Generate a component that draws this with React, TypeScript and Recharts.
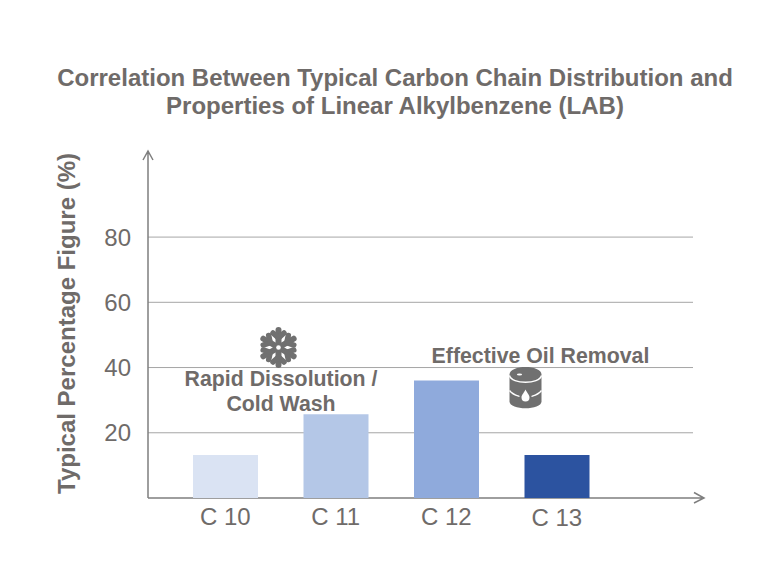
import React from "react";
import { BarChart, Bar, XAxis, YAxis, CartesianGrid, Cell } from "recharts";

const categories = ["C 10", "C 11", "C 12", "C 13"];
const percentages = [13.2, 25.7, 36, 13.2];
const barColors = ["#DAE3F3", "#B4C7E7", "#8FAADC", "#2C53A0"];
const yTicks = [20, 40, 60, 80];
const titleLines = [
  "Correlation Between Typical Carbon Chain Distribution and",
  "Properties of Linear Alkylbenzene (LAB)",
];
const yLabel = "Typical Percentage Figure (%)";
const noteCold = ["Rapid Dissolution /", "Cold Wash"];
const noteOil = "Effective Oil Removal";

const data = categories.map((name, i) => ({ name, value: percentages[i] }));

const TEXT = "#6F6B69";
const ICON = "#707070";
const FONT = "'Liberation Sans', Arial, sans-serif";

function Snowflake({ cx, cy }: { cx: number; cy: number }) {
  const arms = [0, 60, 120, 180, 240, 300];
  return (
    <g transform={`translate(${cx},${cy})`}>
      {arms.map((a) => (
        <g key={a} transform={`rotate(${a})`} stroke={ICON} strokeLinecap="round" fill="none">
          <line x1={0} y1={0} x2={0} y2={-17.5} strokeWidth={6} />
          <line x1={0} y1={-9.5} x2={-5.5} y2={-14.5} strokeWidth={5.5} />
          <line x1={0} y1={-9.5} x2={5.5} y2={-14.5} strokeWidth={5.5} />
        </g>
      ))}
      <circle r={5} fill={ICON} />
      <circle r={2.3} fill="#fff" />
    </g>
  );
}

function Barrel({ cx, cy }: { cx: number; cy: number }) {
  return (
    <g transform={`translate(${cx},${cy})`}>
      <path
        d="M-16,-13 C-16,-23 16,-23 16,-13 L16,14 C16,23 -16,23 -16,14 Z"
        fill={ICON}
      />
      <path d="M-16,-12 C-14,-3 14,-3 16,-12" fill="none" stroke="#fff" strokeWidth={1.3} />
      <path d="M-16,3 C-13,7 -9,8 -6,9 M6,9 C9,8 13,7 16,3" fill="none" stroke="#fff" strokeWidth={1.3} />
      <ellipse cx={-6} cy={-13} rx={2.6} ry={1} fill="#fff" />
      <path d="M0,2 C2,6 4,7.5 4,10 A4,4 0 0 1 -4,10 C-4,7.5 -2,6 0,2 Z" fill="#fff" />
    </g>
  );
}

function AxisTick(props: any) {
  const { x, y, payload, index } = props;
  return (
    <text x={x} y={y + 19 + (index === 3 ? 1 : 0)} textAnchor="middle" fontSize={24} fill={TEXT} fontFamily={FONT}>
      {payload.value}
    </text>
  );
}

export default function App() {
  return (
    <div style={{ position: "absolute", left: 0, top: 0, width: 779, height: 584 }}>
      <BarChart
        width={779}
        height={584}
        data={data}
        margin={{ top: 150, right: 86, bottom: 0, left: 0 }}
        barSize={65}
      >
        <CartesianGrid horizontal vertical={false} horizontalValues={yTicks} stroke="#A6A6A6" strokeWidth={1} />
        <XAxis
          dataKey="name"
          height={86}
          padding={{ left: 22, right: 81 }}
          axisLine={false}
          tickLine={false}
          tick={<AxisTick />}
          interval={0}
        />
        <YAxis
          width={148}
          domain={[0, 106.7]}
          ticks={yTicks}
          axisLine={false}
          tickLine={false}
          tickMargin={11}
          tick={{ fontSize: 24, fill: TEXT, fontFamily: FONT }}
        />
        <g stroke="#7F7F7F" fill="none" strokeWidth={1.5}>
          <path d="M148,498 L148,151 M143,160 L148,151 L153,160" />
          <path d="M148,498 L704,498 M694,492.5 L704,498 L694,503" />
        </g>
        <Bar dataKey="value" isAnimationActive={false}>
          {data.map((d, i) => (
            <Cell key={d.name} fill={barColors[i]} />
          ))}
        </Bar>
        <g fontFamily={FONT} fontWeight="bold" fill={TEXT}>
          {titleLines.map((t, i) => (
            <text key={t} x={395} y={86 + i * 28} textAnchor="middle" fontSize={24}>
              {t}
            </text>
          ))}
          <text
            transform="translate(75,323.5) rotate(-90)"
            textAnchor="middle"
            fontSize={24}
          >
            {yLabel}
          </text>
          {noteCold.map((t, i) => (
            <text key={t} x={281} y={386 + i * 25} textAnchor="middle" fontSize={21.3}>
              {t}
            </text>
          ))}
          <text x={540.5} y={363} textAnchor="middle" fontSize={21.3}>
            {noteOil}
          </text>
        </g>
        <Snowflake cx={278.5} cy={347.5} />
        <Barrel cx={525.5} cy={387.5} />
      </BarChart>
    </div>
  );
}
